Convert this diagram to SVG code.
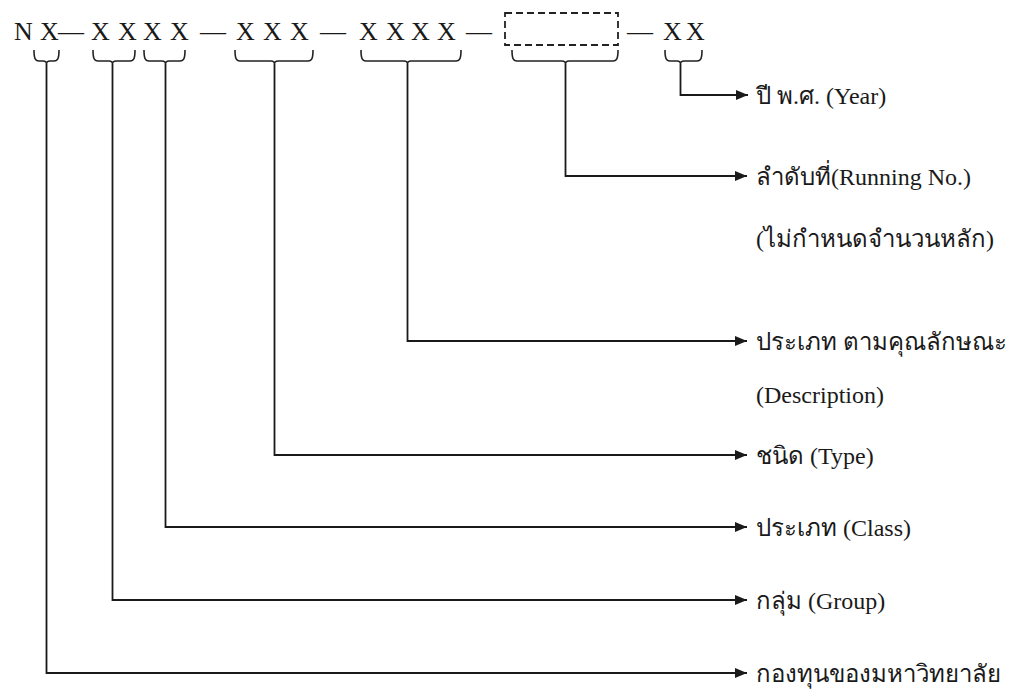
<svg xmlns="http://www.w3.org/2000/svg" width="1014" height="691" viewBox="0 0 1014 691">
  <style>
    .code { font-family: "Liberation Serif", "Times New Roman", serif; font-size: 26px; fill: #1a1a1a; }
    .lbl { font-family: "Liberation Serif", "Noto Sans", "DejaVu Sans", serif; font-size: 24px; fill: #1a1a1a; }
    .brace { fill: none; stroke: #222; stroke-width: 1.6; }
    .conn { fill: none; stroke: #1a1a1a; stroke-width: 1.8; }
    .slot { fill: none; stroke: #222; stroke-width: 1.8; stroke-dasharray: 7 4; }
  </style>
  <defs>
    <marker id="arrow" viewBox="0 0 12 10" refX="12" refY="5" markerWidth="12" markerHeight="10" markerUnits="userSpaceOnUse" orient="auto">
      <path d="M0,0 L12,5 L0,10 Z" fill="#1a1a1a"/>
    </marker>
  </defs>
  <rect width="1014" height="691" fill="#ffffff"/>

  <!-- asset code pattern -->
  <g id="code-pattern">
    <text class="code" x="14" y="40">N</text>
    <text class="code" x="40" y="40">X</text>
    <text class="code" x="58" y="40">—</text>
    <text class="code" x="91" y="40">X</text>
    <text class="code" x="118" y="40">X</text>
    <text class="code" x="143" y="40">X</text>
    <text class="code" x="170" y="40">X</text>
    <text class="code" x="200" y="40">—</text>
    <text class="code" x="236" y="40">X</text>
    <text class="code" x="263" y="40">X</text>
    <text class="code" x="290" y="40">X</text>
    <text class="code" x="320" y="40">—</text>
    <text class="code" x="359" y="40">X</text>
    <text class="code" x="386" y="40">X</text>
    <text class="code" x="411" y="40">X</text>
    <text class="code" x="437" y="40">X</text>
    <text class="code" x="466" y="40">—</text>
    <rect class="slot" x="505" y="13" width="113" height="32"/>
    <text class="code" x="627" y="40">—</text>
    <text class="code" x="663" y="40">X</text>
    <text class="code" x="686" y="40">X</text>
  </g>

  <!-- braces under each field -->
  <g id="braces">
    <path class="brace" d="M34,50 C34,58 35,61 39,61 H43 Q46.5,61 46.5,64 Q46.5,61 50,61 H54 C58,61 59,58 59,50"/>
    <path class="brace" d="M93,50 C93,58 94,61 98,61 H109 Q112.5,61 112.5,64 Q112.5,61 116,61 H130 C134,61 135,58 135,50"/>
    <path class="brace" d="M144,50 C144,58 145,61 149,61 H162 Q165.5,61 165.5,64 Q165.5,61 169,61 H180 C184,61 185,58 185,50"/>
    <path class="brace" d="M235,50 C235,58 236,61 240,61 H271 Q274.5,61 274.5,64 Q274.5,61 278,61 H308 C312,61 313,58 313,50"/>
    <path class="brace" d="M361,50 C361,58 362,61 366,61 H404 Q407.5,61 407.5,64 Q407.5,61 411,61 H456 C460,61 461,58 461,50"/>
    <path class="brace" d="M512,50 C512,58 513,61 517,61 H562 Q565.5,61 565.5,64 Q565.5,61 569,61 H613 C617,61 618,58 618,50"/>
    <path class="brace" d="M665,50 C665,58 666,61 670,61 H677 Q680.5,61 680.5,64 Q680.5,61 684,61 H697 C701,61 702,58 702,50"/>
  </g>

  <!-- connectors from each brace to its label -->
  <g id="connectors">
    <path class="conn" d="M680.5,64 V95 H748" marker-end="url(#arrow)"/>
    <path class="conn" d="M565.5,64 V176 H747" marker-end="url(#arrow)"/>
    <path class="conn" d="M407.5,64 V341 H747" marker-end="url(#arrow)"/>
    <path class="conn" d="M274.5,64 V455 H747" marker-end="url(#arrow)"/>
    <path class="conn" d="M165.5,64 V527 H747" marker-end="url(#arrow)"/>
    <path class="conn" d="M112.5,64 V600 H747" marker-end="url(#arrow)"/>
    <path class="conn" d="M46.5,64 V673 H747" marker-end="url(#arrow)"/>
  </g>

  <!-- field labels -->
  <g id="year"><text class="lbl" x="756" y="104">ปี พ.ศ. (Year)</text></g>
  <g id="running-no">
    <text class="lbl" x="756" y="185">ลำดับที่(Running No.)</text>
    <text class="lbl" x="756" y="247">(ไม่กำหนดจำนวนหลัก)</text>
  </g>
  <g id="description">
    <text class="lbl" x="756" y="350">ประเภท ตามคุณลักษณะ</text>
    <text class="lbl" x="756" y="403">(Description)</text>
  </g>
  <g id="type"><text class="lbl" x="756" y="464">ชนิด (Type)</text></g>
  <g id="class"><text class="lbl" x="756" y="536">ประเภท (Class)</text></g>
  <g id="group"><text class="lbl" x="756" y="609">กลุ่ม (Group)</text></g>
  <g id="fund"><text class="lbl" x="756" y="682">กองทุนของมหาวิทยาลัย</text></g>
</svg>
